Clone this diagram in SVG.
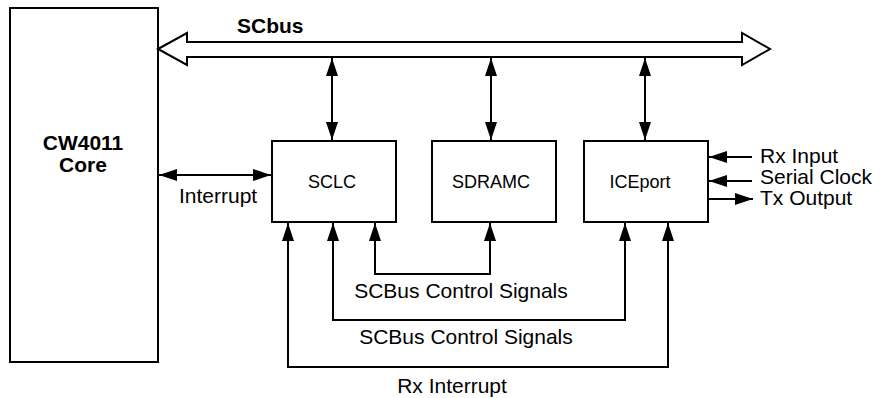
<svg xmlns="http://www.w3.org/2000/svg" width="885" height="398" viewBox="0 0 885 398">
<style>
.box{fill:#fff;stroke:#000;stroke-width:2}
.ln{fill:none;stroke:#000;stroke-width:2}
.t{font-family:"Liberation Sans",Arial,sans-serif;font-size:21px;fill:#000}
.tb{font-family:"Liberation Sans",Arial,sans-serif;font-size:21px;font-weight:bold;fill:#000}
.tn{font-family:"Liberation Sans",Arial,sans-serif;font-size:18px;fill:#000}
</style>
<defs>
<marker id="ah" viewBox="0 0 18 12" refX="18" refY="6" markerWidth="18" markerHeight="12" markerUnits="userSpaceOnUse" orient="auto-start-reverse">
<path d="M0,0 L18,6 L0,12 z" fill="#000"/>
</marker>
</defs>
<rect width="885" height="398" fill="#fff"/>
<g id="core">
<rect class="box" x="10" y="8" width="148" height="354"/>
<text class="tb" x="83" y="150" text-anchor="middle">CW4011</text>
<text class="tb" x="83" y="172" text-anchor="middle">Core</text>
</g>
<g id="scbus">
<polygon class="box" points="158,49 187,33 187,42 742,42 742,33 770,49 742,65 742,57 187,57 187,65"/>
<text class="tb" x="237" y="33">SCbus</text>
</g>
<g id="sclc">
<rect class="box" x="272" y="141" width="124" height="81"/>
<text class="tn" x="332" y="188" text-anchor="middle">SCLC</text>
</g>
<g id="sdramc">
<rect class="box" x="432" y="141" width="124" height="81"/>
<text class="tn" x="491" y="188" text-anchor="middle">SDRAMC</text>
</g>
<g id="iceport">
<rect class="box" x="584" y="141" width="124" height="81"/>
<text class="tn" x="640" y="188" text-anchor="middle">ICEport</text>
</g>
<g id="connectors">
<line class="ln" x1="332" y1="58" x2="332" y2="140" marker-start="url(#ah)" marker-end="url(#ah)"/>
<line class="ln" x1="491" y1="58" x2="491" y2="140" marker-start="url(#ah)" marker-end="url(#ah)"/>
<line class="ln" x1="645" y1="58" x2="645" y2="140" marker-start="url(#ah)" marker-end="url(#ah)"/>
<line class="ln" x1="159" y1="175" x2="271" y2="175" marker-start="url(#ah)" marker-end="url(#ah)"/>
<line class="ln" x1="752" y1="157" x2="709" y2="157" marker-end="url(#ah)"/>
<line class="ln" x1="752" y1="181" x2="709" y2="181" marker-end="url(#ah)"/>
<line class="ln" x1="709" y1="199" x2="753" y2="199" marker-end="url(#ah)"/>
<polyline class="ln" points="375,223 375,274 490,274 490,223" marker-start="url(#ah)" marker-end="url(#ah)"/>
<polyline class="ln" points="333,223 333,320 625,320 625,223" marker-start="url(#ah)" marker-end="url(#ah)"/>
<polyline class="ln" points="288,223 288,367 668,367 668,223" marker-start="url(#ah)" marker-end="url(#ah)"/>
<text class="t" x="179" y="203">Interrupt</text>
<text class="t" x="760" y="163">Rx Input</text>
<text class="t" x="760" y="184">Serial Clock</text>
<text class="t" x="760" y="205">Tx Output</text>
<text class="t" x="461" y="298" text-anchor="middle">SCBus Control Signals</text>
<text class="t" x="466" y="344" text-anchor="middle">SCBus Control Signals</text>
<text class="t" x="452" y="393" text-anchor="middle">Rx Interrupt</text>
</g>
</svg>
